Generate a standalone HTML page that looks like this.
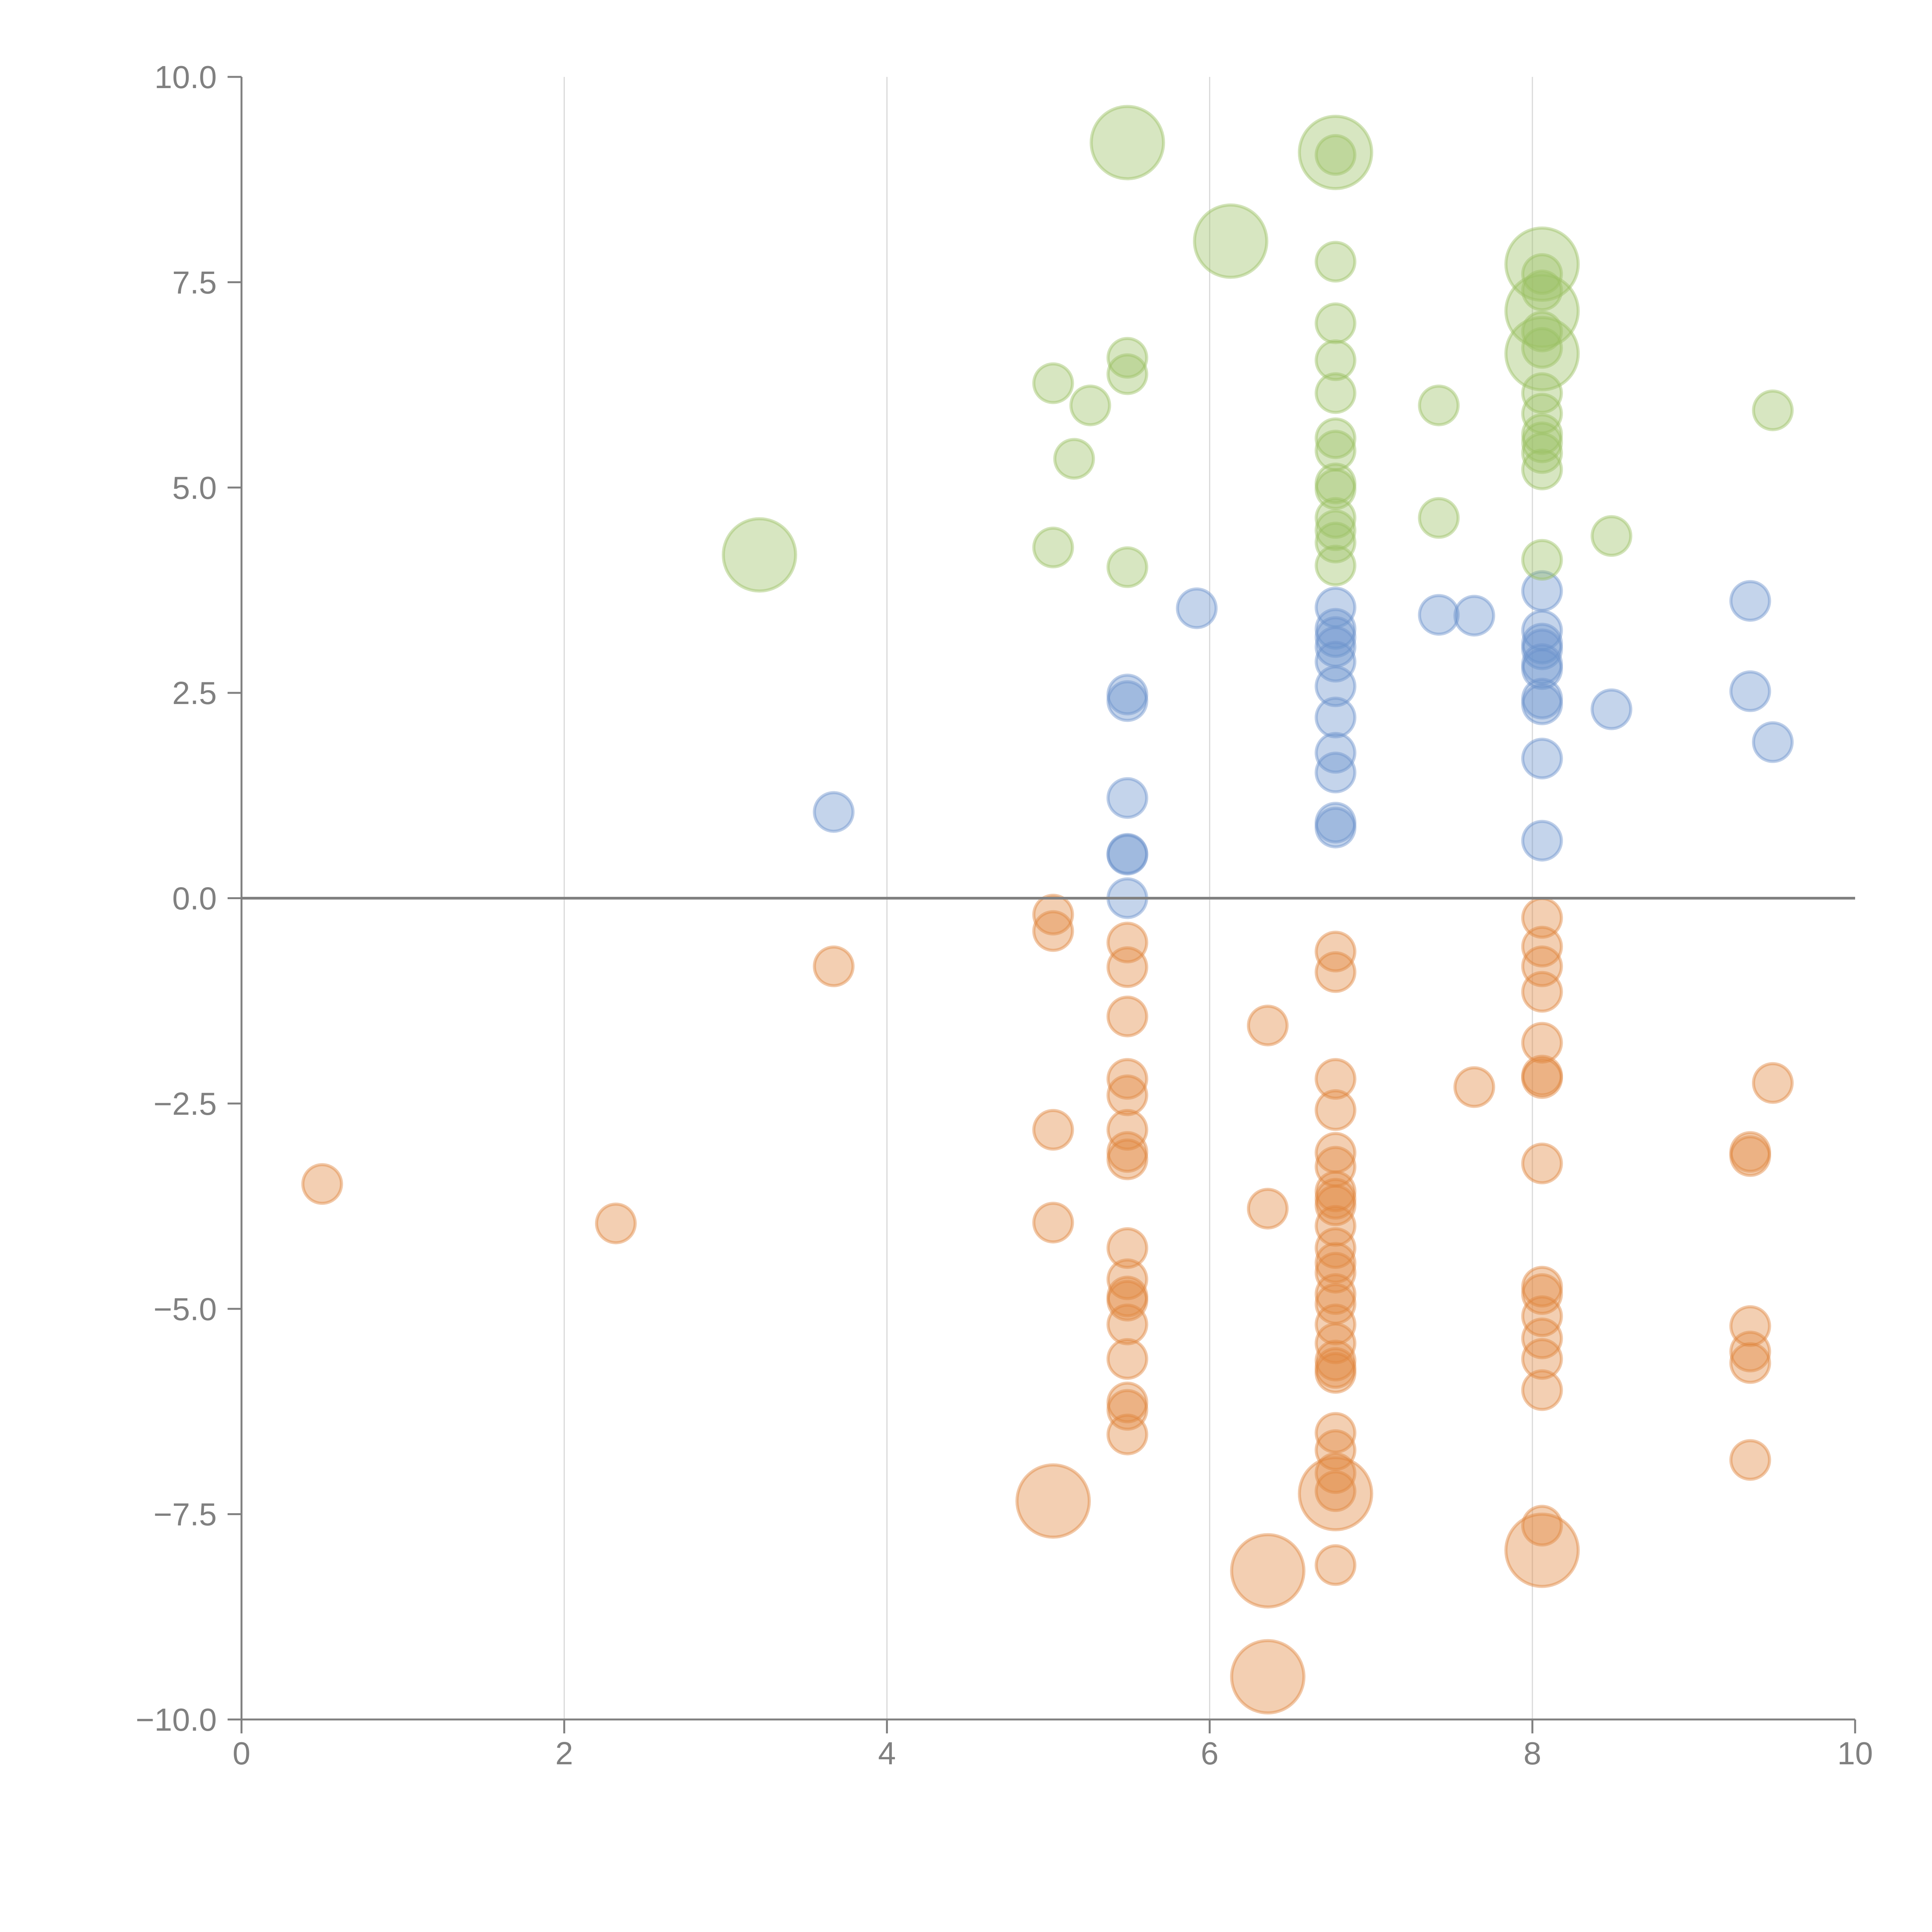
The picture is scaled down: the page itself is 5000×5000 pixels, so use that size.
<!DOCTYPE html>
<html><head><meta charset="utf-8"><style>
html,body{margin:0;padding:0;background:#fff;}
svg{display:block;}
text{font-family:"Liberation Sans",sans-serif;fill:#808080;font-size:83px;}
</style></head><body>
<svg id="chart" width="5000" height="5000" viewBox="0 0 5000 5000" xmlns="http://www.w3.org/2000/svg">
<g id="grid"></g>
<g id="marks"></g>
<g id="axes"></g>
</svg>
<script>
const xTicks = [0, 2, 4, 6, 8, 10];
const yTicks = [-10, -7.5, -5, -2.5, 0, 2.5, 5, 7.5, 10];
const greenX = [5.49,6.78,6.78,6.13,6.78,8.06,8.06,8.06,8.06,6.78,8.06,8.06,8.06,5.49,5.49,6.78,5.03,5.26,7.42,9.49,6.78,8.06,8.06,8.06,8.06,8.06,8.06,6.78,6.78,6.78,6.78,5.16,6.78,6.78,6.78,6.78,7.42,8.49,5.03,5.49,3.21,8.06];
const greenY = [9.2,9.08,9.05,8.0,7.75,7.72,7.6,7.4,7.15,7.0,6.9,6.63,6.7,6.58,6.38,6.55,6.27,6.0,6.0,5.94,6.15,6.15,5.9,5.65,5.55,5.42,5.22,5.6,5.45,5.05,4.98,5.35,4.63,4.48,4.33,4.05,4.63,4.41,4.27,4.03,4.18,4.12];
const greenS = [3.5,3.5,1,3.5,1,3.5,1,1,3.5,1,1,3.5,1,1,1,1,1,1,1,1,1,1,1,1,1,1,1,1,1,1,1,1,1,1,1,1,1,1,1,1,3.5,1];
const blueX = [3.67,5.92,5.49,5.49,5.49,5.49,5.49,5.49,6.78,6.78,6.78,6.78,6.78,6.78,6.78,6.78,6.78,6.78,6.78,7.42,7.64,8.06,8.06,8.06,8.06,8.06,8.06,8.06,8.06,8.06,8.06,8.49,9.35,9.35,9.49];
const blueY = [1.05,3.53,2.48,2.4,1.22,0.54,0.53,0.0,3.54,3.28,3.18,3.06,2.88,2.58,2.2,1.77,1.53,0.92,0.86,3.45,3.44,3.74,3.26,3.1,3.03,2.85,2.79,2.43,2.36,1.7,0.7,2.3,3.62,2.52,1.9];
const blueS = blueX.map(() => 1);
const orangeX = [0.5,2.32,3.67,5.03,5.03,5.03,5.03,5.03,5.49,5.49,5.49,5.49,5.49,5.49,5.49,5.49,5.49,5.49,5.49,5.49,5.49,5.49,5.49,5.49,5.49,6.36,6.36,6.36,6.36,6.78,6.78,6.78,6.78,6.78,6.78,6.78,6.78,6.78,6.78,6.78,6.78,6.78,6.78,6.78,6.78,6.78,6.78,6.78,6.78,6.78,6.78,6.78,6.78,6.78,6.78,7.64,8.06,8.06,8.06,8.06,8.06,8.06,8.06,8.06,8.06,8.06,8.06,8.06,8.06,8.06,8.06,8.06,9.35,9.35,9.35,9.35,9.35,9.35,9.49];
const orangeY = [-3.48,-3.96,-0.83,-0.2,-0.4,-2.82,-3.95,-7.34,-0.54,-0.84,-1.44,-2.2,-2.4,-2.82,-3.09,-3.18,-4.26,-4.64,-4.85,-4.9,-5.19,-5.61,-6.14,-6.23,-6.53,-1.55,-3.78,-8.19,-9.48,-0.65,-0.9,-2.2,-2.58,-3.1,-3.27,-3.57,-3.66,-3.74,-3.99,-4.26,-4.44,-4.56,-4.82,-4.94,-5.19,-5.42,-5.63,-5.72,-5.78,-6.51,-6.72,-7.0,-7.22,-7.25,-8.12,-2.3,-0.24,-0.59,-0.83,-1.14,-1.76,-2.16,-2.19,-3.23,-4.73,-4.82,-5.09,-5.36,-5.61,-5.99,-7.64,-7.94,-3.09,-3.14,-5.21,-5.52,-5.66,-6.84,-2.25];
const orangeS = [1,1,1,1,1,1,1,3.5,1,1,1,1,1,1,1,1,1,1,1,1,1,1,1,1,1,1,1,3.5,3.5,1,1,1,1,1,1,1,1,1,1,1,1,1,1,1,1,1,1,1,1,1,1,1,1,3.5,1,1,1,1,1,1,1,1,1,1,1,1,1,1,1,1,1,3.5,1,1,1,1,1,1,1];

const X0=625, X1=4801, Y0=4450, Y1=199;
const sx = v => X0 + (v - 0) / 10 * (X1 - X0);
const sy = v => Y0 - (v + 10) / 20 * (Y0 - Y1);
const NS = 'http://www.w3.org/2000/svg';
function mk(tag, attrs, parent){const e=document.createElementNS(NS,tag);for(const k in attrs)e.setAttribute(k,attrs[k]);parent.appendChild(e);return e;}
const grid=document.getElementById('grid'), marks=document.getElementById('marks'), axes=document.getElementById('axes');

xTicks.forEach(t=>{ if(t>0&&t<10){
  const l=mk('line',{x1:sx(t),x2:sx(t),y1:Y1,y2:Y0,stroke:'#d9d9d9','stroke-width':3},grid);
  
  
}});

function series(xs,ys,ss,fill,stroke,name){
  const g=mk('g',{},marks);
  
  
  xs.forEach((x,i)=>{
    const c=mk('circle',{cx:sx(x),cy:sy(ys[i]),r:50*Math.sqrt(ss[i]),fill:fill,'fill-opacity':0.4,stroke:stroke,'stroke-opacity':0.45,'stroke-width':8},g);
    
    
  });
}
series(orangeX,orangeY,orangeS,'#e0863f','#e0863f','orange');
series(blueX,blueY,blueS,'#6c93cc','#6c93cc','blue');
series(greenX,greenY,greenS,'#9bc064','#9bc064','green');

let a=mk('line',{x1:X0,x2:X0,y1:Y1,y2:Y0,stroke:'#808080','stroke-width':5},axes);


a=mk('line',{x1:X0,x2:X1,y1:Y0,y2:Y0,stroke:'#808080','stroke-width':5},axes);


a=mk('line',{x1:X0,x2:X1,y1:sy(0),y2:sy(0),stroke:'#808080','stroke-width':7},axes);



xTicks.forEach(t=>{
  const l=mk('line',{x1:sx(t),x2:sx(t),y1:Y0,y2:Y0+36,stroke:'#808080','stroke-width':5},axes);
  
  
  const tx=mk('text',{x:sx(t),y:Y0+116,'text-anchor':'middle'},axes);
  tx.textContent=String(t);
  
  
});
yTicks.forEach(t=>{
  const l=mk('line',{x1:X0-36,x2:X0,y1:sy(t),y2:sy(t),stroke:'#808080','stroke-width':5},axes);
  
  
  const tx=mk('text',{x:X0-64,y:sy(t)+29,'text-anchor':'end'},axes);
  tx.textContent=(t<0?'\u2212':'')+Math.abs(t).toFixed(1);
  
  
});
</script>
</body></html>
